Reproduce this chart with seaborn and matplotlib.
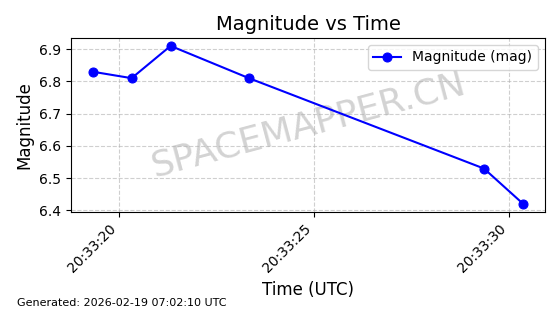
import matplotlib
matplotlib.use("Agg")
import matplotlib.pyplot as plt
import matplotlib.dates as mdates
import pandas as pd
import seaborn as sns

times = ["2026-02-18 20:33:19.33", "2026-02-18 20:33:20.33", "2026-02-18 20:33:21.33",
         "2026-02-18 20:33:23.34", "2026-02-18 20:33:29.37", "2026-02-18 20:33:30.38"]
magnitudes = [6.83, 6.81, 6.91, 6.81, 6.53, 6.42]

df = pd.DataFrame({"time": pd.to_datetime(times), "mag": magnitudes})

fig = plt.figure(figsize=(5.6, 3.14), dpi=100)
ax = fig.add_axes([0.127, 0.325, 0.846, 0.554])

sns.lineplot(data=df, x="time", y="mag", ax=ax, color="blue", marker="o",
             markersize=6.5, markeredgecolor="blue", label="Magnitude (mag)", zorder=3)

ax.set_title("Magnitude vs Time", fontsize=14)
ax.set_xlabel("Time (UTC)", fontsize=12)
ax.set_ylabel("Magnitude", fontsize=12)
ax.grid(True, linestyle="--", alpha=0.6)
ax.xaxis.set_major_locator(mdates.SecondLocator(bysecond=range(0, 60, 5)))
ax.xaxis.set_major_formatter(mdates.DateFormatter("%H:%M:%S"))
plt.setp(ax.get_xticklabels(), rotation=45, ha="right")
ax.legend(loc="upper right")

ax.text(0.5, 0.5, "SPACEMAPPER.CN", transform=ax.transAxes, fontsize=26,
        color="gray", alpha=0.35, rotation=15, ha="center", va="center", zorder=1)

fig.text(0.03, 0.025, "Generated: 2026-02-19 07:02:10 UTC", fontsize=8)

fig.savefig("out.png", dpi=100)
